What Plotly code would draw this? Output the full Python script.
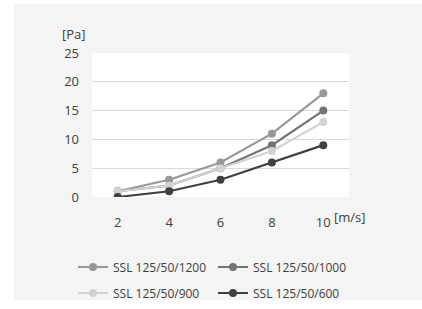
import plotly.graph_objects as go

speeds = [2, 4, 6, 8, 10]
series_names = ["SSL 125/50/1200", "SSL 125/50/1000", "SSL 125/50/900", "SSL 125/50/600"]
v1200 = [1, 3, 6, 11, 18]
v1000 = [1, 2, 5, 9, 15]
v900 = [1, 2, 5, 8, 13]
v600 = [0, 1, 3, 6, 9]
colors = ["#989898", "#747474", "#d2d2d2", "#404040"]
y_ticks = [0, 5, 10, 15, 20, 25]

W, H = 422, 309
ml, mr, mt, mb = 92, 73, 53, 112
pw, ph = W - ml - mr, H - mt - mb

def px_x(p):
    return (p - ml) / pw

def px_y(p):
    return (H - mb - p) / ph

legend_ids = ["legend", "legend2", "legend3", "legend4"]
legend_pos = [(73, 267), (213, 267), (73, 293), (213, 293)]

fig = go.Figure()
for name, vals, col, lid in zip(series_names, [v1200, v1000, v900, v600], colors, legend_ids):
    fig.add_trace(go.Scatter(x=speeds, y=vals, name=name, mode="lines+markers",
                             line=dict(color=col, width=2.2),
                             marker=dict(color=col, size=8), legend=lid))

shapes = [
    dict(type="rect", xref="paper", yref="paper", x0=px_x(0), x1=px_x(14), y0=px_y(H), y1=px_y(0),
         fillcolor="white", line_width=0, layer="below"),
    dict(type="rect", xref="paper", yref="paper", x0=px_x(0), x1=px_x(W), y0=px_y(4), y1=px_y(0),
         fillcolor="white", line_width=0, layer="below"),
    dict(type="rect", xref="paper", yref="paper", x0=px_x(0), x1=px_x(W), y0=px_y(H), y1=px_y(300),
         fillcolor="white", line_width=0, layer="below"),
]

layout_legends = {}
for lid, (lx, ly) in zip(legend_ids, legend_pos):
    layout_legends[lid] = dict(x=px_x(lx), y=px_y(ly), xanchor="left", yanchor="middle",
                               itemwidth=30, font=dict(size=12, color="#404040"),
                               bgcolor="rgba(0,0,0,0)", borderwidth=0)

fig.update_layout(
    width=W, height=H,
    margin=dict(l=ml, r=mr, t=mt, b=mb, pad=0, autoexpand=False),
    paper_bgcolor="#f4f4f4", plot_bgcolor="white",
    font=dict(family="Open Sans, DejaVu Sans, sans-serif", color="#404040", size=12),
    shapes=shapes,
    showlegend=True,
    xaxis=dict(range=[1, 11], tickvals=speeds, ticktext=[str(s) for s in speeds],
               showgrid=False, zeroline=False, showline=False, ticks="", ticklabelstandoff=16,
               tickfont=dict(size=13, color="#404040"), automargin=False),
    yaxis=dict(range=[0, 25], tickvals=y_ticks, showgrid=True, gridcolor="#d9d9d9", gridwidth=1,
               zeroline=False, showline=False, ticks="", ticklabelstandoff=12,
               tickfont=dict(size=13, color="#404040"), automargin=False),
    annotations=[
        dict(text="[Pa]", xref="paper", yref="paper", x=px_x(74), y=px_y(34),
             xanchor="center", yanchor="middle",
             showarrow=False, font=dict(size=13, color="#404040")),
        dict(text="[m/s]", xref="paper", yref="paper", x=px_x(332), y=px_y(217),
             xanchor="left", yanchor="middle", showarrow=False, font=dict(size=13, color="#404040")),
    ],
    **layout_legends,
)

fig.write_html("out.html", config={"displayModeBar": False},
               post_script="document.body.style.margin='0px';document.body.style.overflow='hidden';"
                           "document.documentElement.style.overflow='hidden';")
